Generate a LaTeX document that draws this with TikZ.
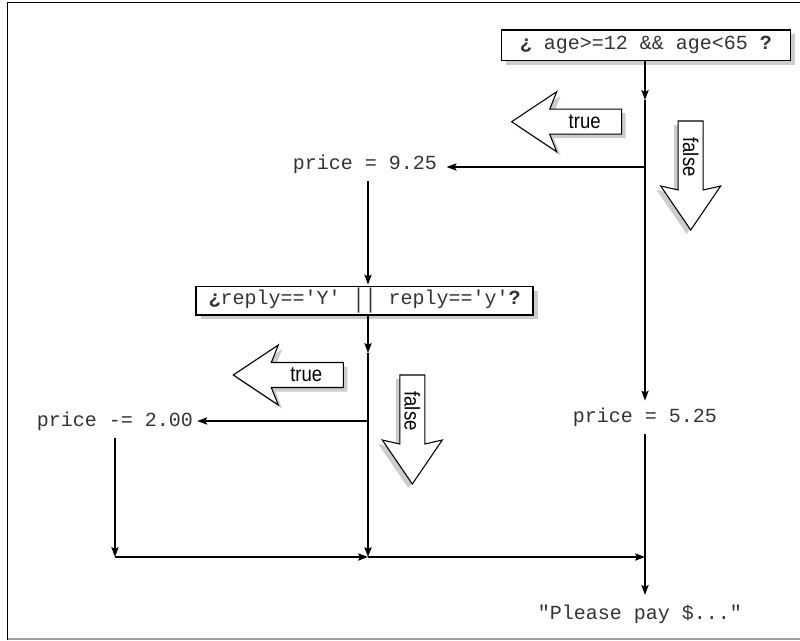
\documentclass[tikz,border=0pt]{standalone}
\usepackage{fontspec}
\usepackage{graphicx}
\setmonofont{Liberation Mono}
\newfontfamily\lblfont[FakeStretch=0.87]{Liberation Sans}
\usetikzlibrary{arrows.meta,shadows}
\definecolor{shadowgray}{HTML}{CCCCCC}
\definecolor{framegray}{HTML}{A0A0A0}
\definecolor{codeink}{HTML}{333333}
\tikzset{
  conn/.style={line width=0.8pt, -{Stealth[length=7.5pt,width=5.5pt,inset=1.5pt]}},
  plain/.style={line width=0.8pt},
  codetext/.style={font=\ttfamily\fontsize{15}{18}\selectfont, text=codeink, inner sep=0pt, anchor=base},
  condbox/.style={font=\ttfamily\fontsize{15}{18}\selectfont, text=codeink, draw, line width=1.1pt, fill=white,
    inner sep=0pt, drop shadow={shadow xshift=3.75pt, shadow yshift=-3pt, fill=shadowgray, opacity=1}},
  blockline/.style={draw, line width=0.8pt, fill=white, line join=miter},
  lbltext/.style={font=\lblfont\fontsize{16}{19}\selectfont, inner sep=0pt},
  truearrow/.pic={
    \fill[shadowgray, shift={(4,4)}] (0,0) -- (45,-30) -- (38,-12.5) -- (110,-12.5) -- (110,12.5) -- (38,12.5) -- (45,30) -- cycle;
    \path[blockline] (0,0) -- (45,-30) -- (38,-12.5) -- (110,-12.5) -- (110,12.5) -- (38,12.5) -- (45,30) -- cycle;
    \node[lbltext] (-t) at (73,0) {true};
  },
  falsearrow/.pic={
    \fill[shadowgray, shift={(-4,4)}] (0,0) -- (-30,-44) -- (-12.5,-40) -- (-12.5,-109) -- (12.5,-109) -- (12.5,-40) -- (30,-44) -- cycle;
    \path[blockline] (0,0) -- (-30,-44) -- (-12.5,-40) -- (-12.5,-109) -- (12.5,-109) -- (12.5,-40) -- (30,-44) -- cycle;
    \node[lbltext, rotate=-90] (-t) at (0,-73) {false};
  }
}
\begin{document}
\begin{tikzpicture}[x=0.75pt,y=-0.75pt]
\useasboundingbox (0,0) rectangle (800,640);
% frame
\draw[line width=1.2pt] (7.5,640) -- (7.5,2.5) -- (800,2.5);
\draw[framegray, line width=1pt] (7.5,639) -- (800,639);

% columns
\coordinate (colL) at (115,0);
\coordinate (colM) at (368,0);
\coordinate (colR) at (645,0);

% nodes
\node[condbox, minimum width=216.75pt, minimum height=23pt] (q1) at (645.9,45.3)
  {{\bfseries ¿} age>=12 \&\& age<65 {\bfseries ?}};
\node[condbox, minimum width=252.75pt, minimum height=21.4pt] (q2) at (364.7,300.9)
  {{\bfseries ¿}reply=='Y' \raisebox{-2.5pt}{\scalebox{1}[1.35]{||}} reply=='y'{\bfseries ?}};
\node[codetext] (p925) at (365,169) {price = 9.25};
\node[codetext] (p200) at (115,426) {price -= 2.00};
\node[codetext] (p525) at (645,422) {price = 5.25};
\node[codetext] (pay) at (640,619) {"Please pay \$..."};

% junction coordinates
\coordinate (m1) at (645,100);
\coordinate (j1) at (645,167);
\coordinate (m2) at (368,353);
\coordinate (j2) at (368,421);
\coordinate (j3) at (368,557);
\coordinate (j4) at (115,557);
\coordinate (j5) at (645,557);

% connectors
\draw[conn] (q1.south -| colR) -- (m1);
\draw[plain] (m1) -- (j1);
\draw[conn, shorten >=7pt] (j1) -- (j1 -| p925.east);
\draw[conn, shorten >=5pt] (j1) -- (j1 |- p525.north);
\draw[conn, shorten >=1pt] ([yshift=-6pt]p925.south -| colM) -- (q2.north -| colM);
\draw[conn] (q2.south -| colM) -- (m2);
\draw[plain] (m2) -- (j2);
\draw[conn, shorten >=3pt] (j2) -- (j2 -| p200.east);
\draw[conn] (j2) -- (j3);
\draw[conn] ([yshift=-6pt]p200.south -| colL) -- (j4);
\draw[conn] (j4) -- (j3);
\draw[conn] (j3) -- (j5);
\draw[plain] ([yshift=-6pt]p525.south -| colR) -- (j5);
\draw[conn, shorten >=7pt] (j5) -- (j5 |- pay.north);

% block arrows
\pic (tA) at (511.7,121.7) {truearrow};
\pic (fA) at (690.7,230) {falsearrow};
\pic (tB) at (233.3,375) {truearrow};
\pic (fB) at (412.3,484) {falsearrow};
\end{tikzpicture}
\end{document}
